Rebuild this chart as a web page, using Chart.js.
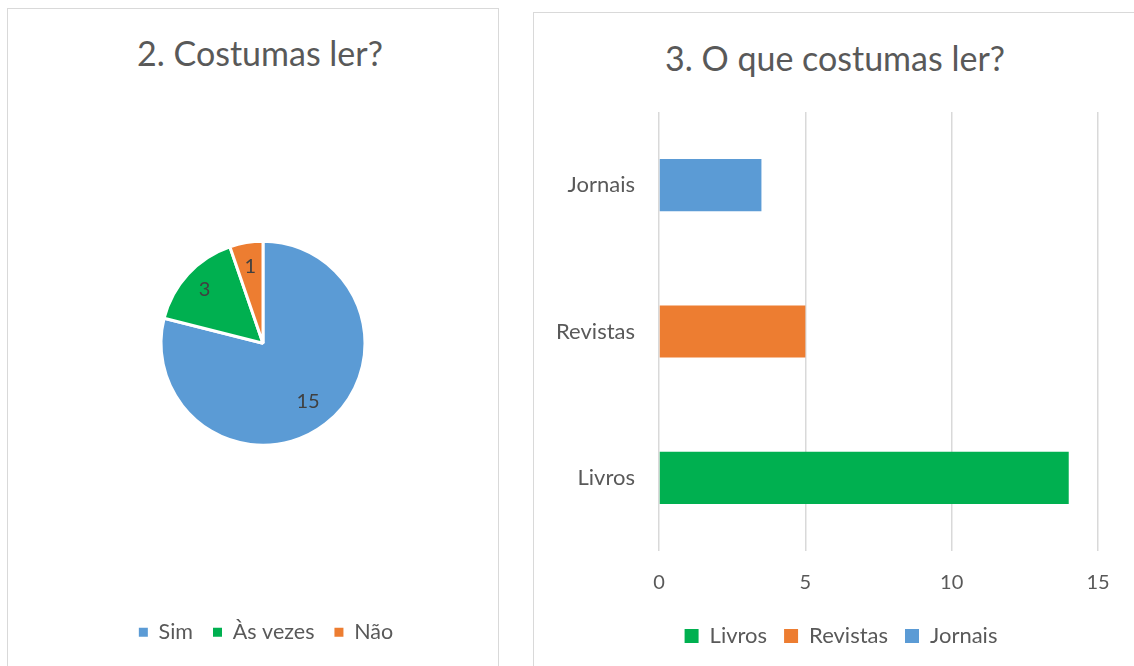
<!DOCTYPE html>
<html>
<head>
<meta charset="utf-8">
<script src="https://cdn.jsdelivr.net/npm/chart.js@4.4.1/dist/chart.umd.min.js"></script>
<style>
  html, body { margin: 0; padding: 0; background: #fff; width: 1134px; height: 666px; overflow: hidden; position: relative; font-family: Lato, "Open Sans", sans-serif; }
  .panel { position: absolute; border: 1px solid #d9d9d9; box-sizing: border-box; background: #fff; }
  .title { position: absolute; color: #595959; font-size: 34px; white-space: nowrap; transform: translate(-50%, -50%); }
  canvas { position: absolute; }
</style>
</head>
<body>
<div class="panel" style="left:7px;top:8px;width:492px;height:720px;"></div>
<div class="panel" style="left:533px;top:12px;width:700px;height:720px;"></div>
<div class="title" style="left:260px;top:52px;">2. Costumas ler?</div>
<div class="title" style="left:835px;top:57px;">3. O que costumas ler?</div>
<canvas id="pie" width="492" height="658" style="left:18px;top:8px;"></canvas>
<canvas id="bar" width="594" height="654" style="left:540px;top:12px;"></canvas>
<script>
// ---- Data ----
const pieLabels = ['Sim', 'Às vezes', 'Não'];
const pieValues = [15, 3, 1];
const pieColors = ['#5B9BD5', '#00B050', '#ED7D31'];

const barLabels = ['Livros', 'Revistas', 'Jornais'];
const barValues = [14, 5, 3.5];
const barColors = ['#00B050', '#ED7D31', '#5B9BD5'];
const xTicks = [0, 5, 10, 15];

const FONT = 'Lato, "Open Sans", sans-serif';
const TXT = '#595959';

// Shift the legend box horizontally after layout (legend centre differs from plot centre)
const legendShift = {
  id: 'legendShift',
  afterLayout(chart, args, opts) {
    const dx = opts.dx || 0;
    if (chart.legend && dx) {
      chart.legend.left += dx;
      chart.legend.right += dx;
    }
  }
};

// Data labels on pie slices
const pieLabelPlugin = {
  id: 'pieLabels',
  afterDatasetsDraw(chart) {
    const ctx = chart.ctx;
    const meta = chart.getDatasetMeta(0);
    const frac = [0.72, 0.78, 0.76];
    ctx.save();
    ctx.font = '20px ' + FONT;
    ctx.fillStyle = '#404040';
    ctx.textAlign = 'center';
    ctx.textBaseline = 'middle';
    meta.data.forEach((arc, i) => {
      const p = arc.getProps(['x', 'y', 'startAngle', 'endAngle', 'outerRadius']);
      const mid = (p.startAngle + p.endAngle) / 2;
      const r = p.outerRadius * frac[i];
      ctx.fillText(String(pieValues[i]), p.x + Math.cos(mid) * r, p.y + Math.sin(mid) * r);
    });
    ctx.restore();
  }
};

function squareLabels(labels, colors) {
  return () => labels.map((l, i) => ({
    text: l,
    fillStyle: colors[i],
    strokeStyle: colors[i],
    lineWidth: 0,
    hidden: false,
    index: i,
    datasetIndex: 0,
    fontColor: TXT
  }));
}

new Chart(document.getElementById('pie'), {
  type: 'pie',
  data: {
    labels: pieLabels,
    datasets: [{
      data: pieValues,
      backgroundColor: pieColors,
      borderColor: '#ffffff',
      borderWidth: 3
    }]
  },
  options: {
    responsive: false,
    animation: false,
    devicePixelRatio: 1,
    radius: 102,
    layout: { padding: { left: 0, right: 2, top: 77, bottom: 13 } },
    plugins: {
      tooltip: { enabled: false },
      title: { display: false },
      legendShift: { dx: 3 },
      legend: {
        position: 'bottom',
        labels: {
          color: TXT,
          font: { family: FONT, size: 21.5 },
          boxWidth: 9,
          boxHeight: 9,
          padding: 20,
          generateLabels: squareLabels(pieLabels, pieColors)
        }
      }
    }
  },
  plugins: [pieLabelPlugin, legendShift]
});

new Chart(document.getElementById('bar'), {
  type: 'bar',
  data: {
    labels: barLabels,
    datasets: [{
      data: barValues,
      backgroundColor: barColors,
      categoryPercentage: 1,
      barPercentage: 0.356
    }]
  },
  options: {
    indexAxis: 'y',
    responsive: false,
    animation: false,
    devicePixelRatio: 1,
    layout: { padding: { left: 0, right: 36, top: 100, bottom: 9 } },
    scales: {
      x: {
        min: 0, max: 15,
        afterBuildTicks(scale) { scale.ticks = xTicks.map(v => ({ value: v })); },
        afterFit(scale) { scale.height = 57; },
        grid: { color: '#d9d9d9', lineWidth: 1.5, drawTicks: false },
        border: { display: false },
        ticks: { color: TXT, font: { family: FONT, size: 20 }, padding: 20 }
      },
      y: {
        reverse: true,
        afterFit(scale) { scale.width = 119; },
        grid: { display: false, drawTicks: false },
        border: { display: false },
        ticks: { color: TXT, font: { family: FONT, size: 22 }, padding: 24 }
      }
    },
    plugins: {
      tooltip: { enabled: false },
      title: { display: false },
      legendShift: { dx: 22 },
      legend: {
        position: 'bottom',
        labels: {
          color: TXT,
          font: { family: FONT, size: 22 },
          boxWidth: 14,
          boxHeight: 14,
          padding: 17,
          generateLabels: squareLabels(barLabels, barColors)
        }
      }
    }
  },
  plugins: [legendShift]
});
</script>
</body>
</html>
